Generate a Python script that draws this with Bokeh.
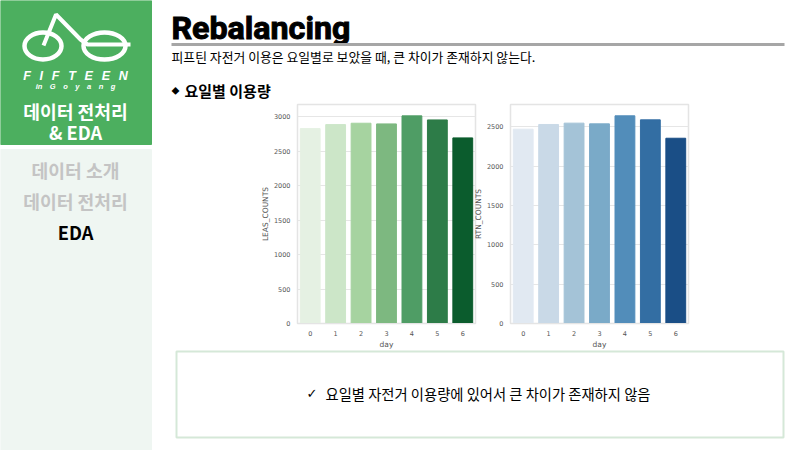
from bokeh.core.properties import value
from bokeh.embed import file_html
from bokeh.layouts import column
from bokeh.models import FixedTicker, Range1d
from bokeh.plotting import figure
from bokeh.resources import INLINE

days = [0, 1, 2, 3, 4, 5, 6]
leas_counts = [2830, 2888, 2908, 2898, 3015, 2956, 2695]
rtn_counts = [2470, 2530, 2547, 2538, 2640, 2589, 2355]
greens = ["#e5f1e3", "#cce6c8", "#a6d3a0", "#7db880", "#4f9d65", "#2d7c48", "#0b5c2d"]
blues = ["#e1e9f2", "#c9d9e7", "#a4c3d7", "#7aaac8", "#528dba", "#336ea3", "#1a4e86"]
leas_ticks = [0, 500, 1000, 1500, 2000, 2500, 3000]
rtn_ticks = [0, 500, 1000, 1500, 2000, 2500]

KR = "Noto Sans CJK KR"
GREEN = "#4caf5f"

# whole slide behind the charts, in pixel coordinates
bg = figure(width=800, height=450, x_range=Range1d(0, 800), y_range=Range1d(450, 0),
            output_backend="svg", toolbar_location=None, frame_align=False,
            min_border_left=0, min_border_right=0, min_border_top=0, min_border_bottom=0,
            outline_line_color=None, background_fill_color="white")
bg.axis.visible = False
bg.grid.visible = False
bg.styles = {"position": "absolute", "left": "0px", "top": "0px"}

bg.quad(left=0, right=151, top=0, bottom=144, color=GREEN)
bg.quad(left=0, right=151, top=149, bottom=450, color="#eff6f2")

# logo
bg.ellipse(x=[42.5, 104], y=[45.5, 45.5], width=[37, 42], height=[27, 27], fill_color=None,
           line_color="white", line_width=4.5)
bg.line([43, 55.5, 80, 87, 130], [45, 14, 39, 44, 44], color="white", line_width=4)


def label(x, y, txt, size, color="black", style="normal", font=KR, align="left", heavy=None):
    bg.text(x=[x], y=[y], text=[txt], text_font=value(font), text_font_size=size, text_color=color,
            text_font_style=style, text_align=align, text_baseline="middle",
            text_outline_color=heavy)


label(75, 75, "F\u2002\u2009I\u2002\u2009F\u2002\u2009T\u2002\u2009E\u2002\u2009E\u2002\u2009N",
      "12.5px", "white", "bold italic", "Liberation Sans", "center")
label(75, 86, "in\u2003G\u2003o\u2003y\u2003a\u2003n\u2003g", "7.5px", "white", "bold italic",
      "Liberation Sans", "center")
label(75, 110, "데이터 전처리", "18.2px", "white", "bold", align="center")
label(75, 131, "& EDA", "18.2px", "white", "bold", align="center")
label(75, 169, "데이터 소개", "18.2px", "#c4c4c4", "bold", align="center")
label(75, 200, "데이터 전처리", "18.2px", "#c4c4c4", "bold", align="center")
label(75, 231, "EDA", "18.2px", "black", "bold", align="center")

label(171, 27, "Rebalancing", "32.2px", "black", "bold", "Roboto", heavy="black")
bg.line([171, 784], [44, 44], color="#a6a6a6", line_width=3)
label(171, 55.5, "피프틴 자전거 이용은 요일별로 보았을 때, 큰 차이가 존재하지 않는다.", "12.85px")
label(171, 90, "◆", "8px")
label(184, 90, "요일별 이용량", "15px", "black", "bold")

bg.quad(left=176, right=783, top=351, bottom=437, fill_color="white",
        line_color="#d5e8d8", line_width=2)
label(306, 393, "✓", "13px", font="DejaVu Sans")
label(325, 393, "요일별 자전거 이용량에 있어서 큰 차이가 존재하지 않음", "14.3px")


def bar_chart(values, colors, ticks, y_max, y_label, left):
    p = figure(frame_width=178, frame_height=219, x_range=Range1d(-0.5, 6.5),
               y_range=Range1d(0, y_max), output_backend="svg", toolbar_location=None,
               min_border_left=47, min_border_right=3, min_border_top=4, min_border_bottom=30,
               frame_align=False,
               background_fill_color="white", border_fill_color=None,
               outline_line_color="#e4e4e4", outline_line_width=1.5)
    p.styles = {"position": "absolute", "left": f"{left}px", "top": "100px"}
    p.vbar(x=days, top=values, width=0.78, fill_color=colors, line_color=colors)
    p.xgrid.visible = False
    p.ygrid.grid_line_color = "#e6e6e6"
    p.ygrid.grid_line_width = 1.2
    p.xaxis.ticker = FixedTicker(ticks=days)
    p.yaxis.ticker = FixedTicker(ticks=ticks)
    p.xaxis.axis_label = "day"
    p.yaxis.axis_label = y_label
    p.axis.axis_line_color = "#e4e4e4"
    p.axis.major_tick_line_color = None
    p.axis.minor_tick_line_color = None
    p.axis.major_tick_out = 0
    p.axis.major_tick_in = 0
    p.axis.minor_tick_out = 0
    p.axis.minor_tick_in = 0
    p.axis.major_label_text_font = "DejaVu Sans"
    p.axis.major_label_text_font_size = "6.5px"
    p.axis.major_label_text_color = "#555555"
    p.axis.axis_label_text_font = "DejaVu Sans"
    p.axis.axis_label_text_font_size = "7.5px"
    p.axis.axis_label_text_font_style = "normal"
    p.axis.axis_label_text_color = "#555555"
    p.axis.major_label_standoff = 7
    p.axis.axis_label_standoff = 1
    return p


chart_leas = bar_chart(leas_counts, greens, leas_ticks, 3180, "LEAS_COUNTS", 250)
chart_rtn = bar_chart(rtn_counts, blues, rtn_ticks, 2784, "RTN_COUNTS", 463)

page = column(bg, chart_leas, chart_rtn, width=800, height=450,
              styles={"position": "absolute", "left": "0px", "top": "0px"})

open("out.html", "w").write(file_html(page, INLINE))
